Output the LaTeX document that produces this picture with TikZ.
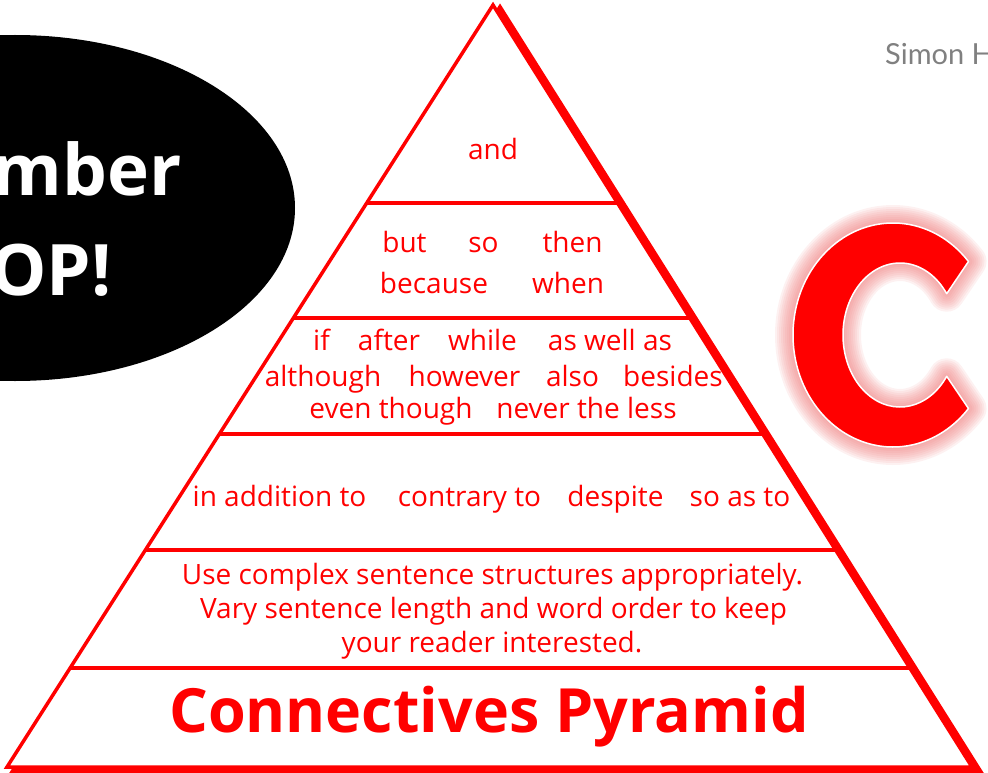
\documentclass[tikz,border=0pt]{standalone}
\usepackage{fontspec}
\setmainfont{Open Sans}
\newfontfamily\latofam{Lato}
\usetikzlibrary{calc}
\definecolor{pyr}{RGB}{255,0,0}
\definecolor{glowc}{RGB}{238,120,120}
\definecolor{sig}{RGB}{128,128,128}
\newcommand\pyrfont{\fontsize{28}{33}\selectfont}
\begin{document}
\begin{tikzpicture}[x=1pt,y=-1pt,
  word/.style={text=pyr, font=\pyrfont, inner sep=0pt, anchor=base},
  title/.style={text=pyr, font=\fontsize{61}{70}\selectfont\bfseries, inner sep=0pt, anchor=base},
  bigwhite/.style={text=white, font=\fontsize{71}{80}\selectfont\bfseries, inner sep=0pt, anchor=base east},
  pyrline/.style={draw=pyr, line width=3.5, line join=miter},
  tierline/.style={draw=pyr, line width=4},
  shadowline/.style={draw=pyr, line width=7, line join=miter},
  glowline/.style={draw=glowc, line join=round}]
\useasboundingbox (0,0) rectangle (988,773);
\clip (0,0) rectangle (988,773);

% black ellipse with white text
\fill[black] (15,208) ellipse[x radius=280, y radius=173];
\node[bigwhite] (rem) at (182,195) {Remember};
\node[bigwhite] (vcop) at (112,295) {VCOP!};

% signature
\node[text=sig, font=\latofam\fontsize{29}{34}\selectfont, inner sep=0pt, anchor=base west] (sign) at (885,65) {Simon Haughton};

% big C with soft glow
\def\Cpath{(968.47,261.52) arc[start angle=-41,end angle=-319,x radius=100,y radius=112] -- (946.69,376.30) arc[start angle=35,end angle=325,x radius=57,y radius=72] -- cycle}
\foreach \w in {36,32,...,4}{
  \draw[glowline, line width=\w, opacity=0.1] \Cpath;
}
\fill[pyr] \Cpath;
\draw[white, line width=1.5, line join=round] \Cpath;

% pyramid
\coordinate (A) at (493,5);
\coordinate (BL) at (7,767);
\coordinate (BR) at (972,767);
\draw[shadowline] ([shift={(7,5)}]A) -- ([shift={(7,5)}]BL) -- ([shift={(7,5)}]BR) -- cycle;
\draw[pyrline, fill=white] (A) -- (BL) -- (BR) -- cycle;
\foreach \t [count=\i] in {0.2598,0.4108,0.5630,0.7152,0.8701}{
  \coordinate (l\i) at ($(A)!\t!(BL)$);
  \coordinate (r\i) at ($(A)!\t!(BR)$);
  \draw[tierline] (l\i) -- (r\i);
}

% tier 1
\node[word] (w-and) at (493,160) {and};
% tier 2
\node[word] (w-but) at (404.5,252) {but};
\node[word] (w-so) at (483.5,252) {so};
\node[word] (w-then) at (572.5,252) {then};
\node[word] (w-because) at (434,293) {because};
\node[word] (w-when) at (568,293) {when};
% tier 3
\node[word] (w-if) at (321.5,350) {if};
\node[word] (w-after) at (389,350) {after};
\node[word] (w-while) at (482.5,350) {while};
\node[word] (w-aswell) at (610,350) {as well as};
\node[word] (w-although) at (323,386) {although};
\node[word] (w-however) at (464.5,386) {however};
\node[word] (w-also) at (572.5,386) {also};
\node[word] (w-besides) at (673,386) {besides};
\node[word] (w-eventhough) at (391,418) {even though};
\node[word] (w-never) at (586.5,418) {never the less};
% tier 4
\node[word] (w-inaddition) at (279.5,506) {in addition to};
\node[word] (w-contrary) at (469.5,506) {contrary to};
\node[word] (w-despite) at (615.5,506) {despite};
\node[word] (w-soasto) at (740,506) {so as to};
% tier 5
\node[word] (s1) at (492.5,584) {Use complex sentence structures appropriately.};
\node[word] (s2) at (493.5,618) {Vary sentence length and word order to keep};
\node[word] (s3) at (492,652) {your reader interested.};
% title
\node[title] (ttl) at (489,732) {Connectives Pyramid};
\end{tikzpicture}
\end{document}
